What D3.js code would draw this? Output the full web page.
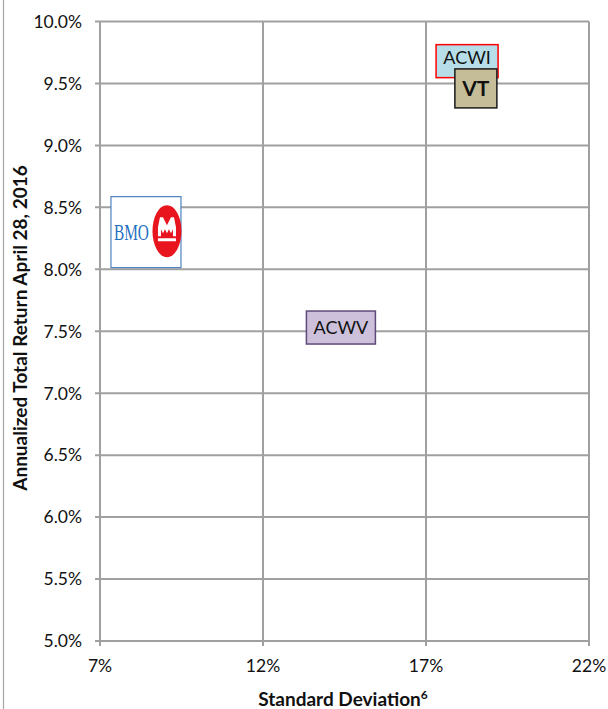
<!DOCTYPE html>
<html>
<head>
<meta charset="utf-8">
<script src="https://cdn.jsdelivr.net/npm/d3@7"></script>
<style>
  body { margin: 0; background: #fff; }
  text { font-family: Lato, "Open Sans", sans-serif; }
</style>
</head>
<body>
<div id="chart"></div>
<script>
// DATA
let FUNDS = ["ACWI", "VT", "BMO", "ACWV"]
let STD_DEV = [18.26, 18.53, 8.41, 14.39]      // x, %
let RETURNS = [9.68, 9.46, 8.30, 7.53]         // y, %
let X_TICKS = [7, 12, 17, 22]
let Y_TICKS = [5.0, 5.5, 6.0, 6.5, 7.0, 7.5, 8.0, 8.5, 9.0, 9.5, 10.0]

let width = 608, height = 709
let margin = { left: 100, right: 19, top: 21.5, bottom: 68 }

let svg = d3.select("#chart")
    .append("svg")
    .attr("width", width)
    .attr("height", height)

// outer frame edge on the left
svg.append("line")
    .attr("x1", 3.5).attr("x2", 3.5)
    .attr("y1", 0).attr("y2", height)
    .attr("stroke", "#a6a6a6")
    .attr("stroke-width", 1.2)

let x = d3.scaleLinear()
    .domain([7, 22])
    .range([margin.left, width - margin.right])
let y = d3.scaleLinear()
    .domain([5, 10])
    .range([height - margin.bottom, margin.top])

let gridColor = "#a0a0a0"

// gridlines
svg.append("g").selectAll("line")
    .data(Y_TICKS)
    .enter()
    .append("line")
    .attr("x1", x(7) - 5).attr("x2", x(22))
    .attr("y1", function (d) { return y(d) }).attr("y2", function (d) { return y(d) })
    .attr("stroke", gridColor)
    .attr("stroke-width", 2)

svg.append("g").selectAll("line")
    .data(X_TICKS)
    .enter()
    .append("line")
    .attr("x1", function (d) { return x(d) }).attr("x2", function (d) { return x(d) })
    .attr("y1", y(10)).attr("y2", y(5) + 5)
    .attr("stroke", gridColor)
    .attr("stroke-width", 2)

// tick labels
svg.append("g").selectAll("text")
    .data(Y_TICKS)
    .enter()
    .append("text")
    .attr("x", x(7) - 18)
    .attr("y", function (d) { return y(d) })
    .attr("dy", "0.36em")
    .attr("text-anchor", "end")
    .style("font-size", "17.5px")
    .style("fill", "#111")
    .text(function (d) { return d.toFixed(1) + "%" })

svg.append("g").selectAll("text")
    .data(X_TICKS)
    .enter()
    .append("text")
    .attr("x", function (d) { return x(d) })
    .attr("y", y(5) + 31)
    .attr("text-anchor", "middle")
    .style("font-size", "17.5px")
    .style("fill", "#111")
    .text(function (d) { return d + "%" })

// axis titles
let xt = svg.append("text")
    .attr("x", 343)
    .attr("y", 706)
    .attr("text-anchor", "middle")
    .style("font-size", "19px")
    .style("font-weight", "bold")
    .style("fill", "#111")
xt.append("tspan").text("Standard Deviation")
xt.append("tspan").attr("dy", -7).style("font-size", "12px").text("6")

svg.append("text")
    .attr("transform", "translate(27," + 328 + ") rotate(-90)")
    .attr("text-anchor", "middle")
    .style("font-size", "19px")
    .style("font-weight", "bold")
    .style("fill", "#111")
    .text("Annualized Total Return April 28, 2016")

// label boxes
let boxStyle = {
    ACWI: { w: 62, h: 33, fill: "#b7dee8", stroke: "#ff0000", sw: 1.5, bold: false, size: 18, dy: -4 },
    VT: { w: 42, h: 39, fill: "#c4bd97", stroke: "#1a1a1a", sw: 1.5, bold: true, size: 21, dy: 0 },
    ACWV: { w: 69, h: 33, fill: "#ccc0da", stroke: "#604a7b", sw: 1.5, bold: false, size: 18, dy: 0 },
    BMO: { w: 70, h: 71, fill: "#ffffff", stroke: "#4f81bd", sw: 1.2 }
}

FUNDS.forEach(function (name, i) {
    let cx = x(STD_DEV[i]), cy = y(RETURNS[i])
    let s = boxStyle[name]
    let g = svg.append("g").attr("transform", "translate(" + cx + "," + cy + ")")
    g.append("rect")
        .attr("x", -s.w / 2).attr("y", -s.h / 2)
        .attr("width", s.w).attr("height", s.h)
        .attr("fill", s.fill)
        .attr("stroke", s.stroke)
        .attr("stroke-width", s.sw)
    if (name === "BMO") {
        // logo: wordmark + roundel
        g.append("text")
            .attr("x", -32).attr("y", 8)
            .style("font-family", "'Liberation Serif', 'DejaVu Serif', serif")
            .style("font-size", "23px")
            .style("fill", "#1f6fbf")
            .attr("textLength", 35)
            .attr("lengthAdjust", "spacingAndGlyphs")
            .text("BMO")
        g.append("ellipse")
            .attr("cx", 21).attr("cy", -1)
            .attr("rx", 14.5).attr("ry", 26)
            .attr("fill", "#e8151f")
        g.append("path")
            .attr("d", "M12,-5 L14,-15 L17,-15 L21,-7 L25,-15 L28,-15 L30,-5 L30,4 L27,4 L27,-3 L25,1 L23,-3 L21,1 L19,-3 L17,1 L15,-3 L15,4 L12,4 Z M12,6 L30,6 L30,9 L12,9 Z")
            .attr("fill", "#fff")
    } else {
        g.append("text")
            .attr("y", s.dy)
            .attr("dy", "0.36em")
            .attr("text-anchor", "middle")
            .style("font-size", s.size + "px")
            .style("font-weight", s.bold ? "bold" : "normal")
            .style("fill", "#111")
            .text(name)
    }
})
</script>
</body>
</html>
